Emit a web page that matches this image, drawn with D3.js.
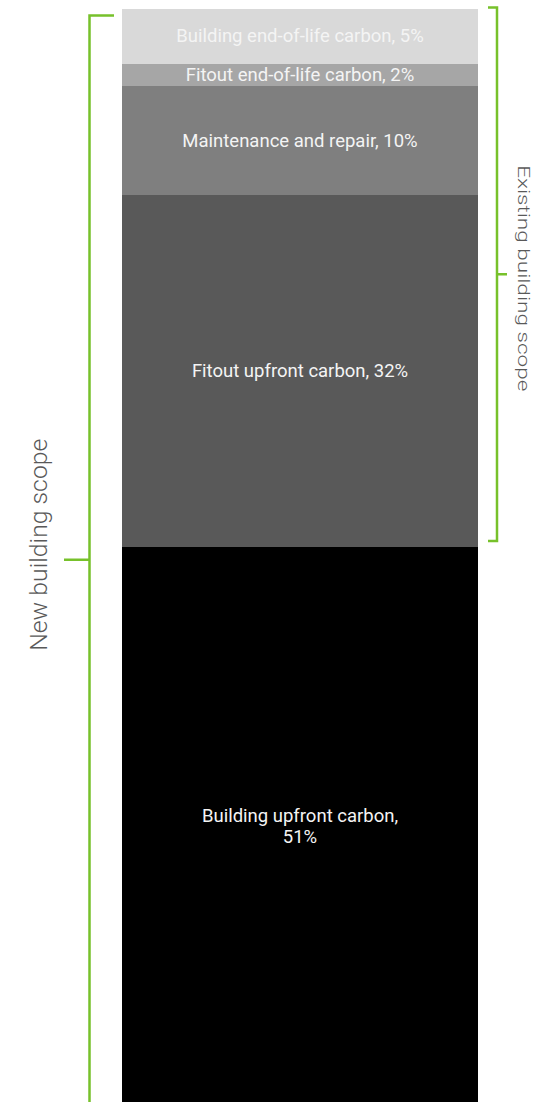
<!DOCTYPE html>
<html>
<head>
<meta charset="utf-8">
<script src="https://cdn.jsdelivr.net/npm/d3@7"></script>
<style>
  html, body { margin: 0; padding: 0; background: #fff; }
  svg { display: block; }
</style>
</head>
<body>
<svg id="chart" width="554" height="1102"></svg>
<script>
// Segments listed bottom to top of the stacked column
const categories = [
  "Building upfront carbon",
  "Fitout upfront carbon",
  "Maintenance and repair",
  "Fitout end-of-life carbon",
  "Building end-of-life carbon"
];
const shares = [51, 32, 10, 2, 5];
const fills = ["#000000", "#595959", "#7f7f7f", "#a6a6a6", "#d9d9d9"];
// Wrapped label lines per segment
const labelLines = [
  ["Building upfront carbon,", "51%"],
  ["Fitout upfront carbon, 32%"],
  ["Maintenance and repair, 10%"],
  ["Fitout end-of-life carbon, 2%"],
  ["Building end-of-life carbon, 5%"]
];
// Brackets: [from, to] in cumulative percent
const scopes = [
  { name: "New building scope", from: 0, to: 100, side: "left" },
  { name: "Existing building scope", from: 51, to: 100, side: "right" }
];

const svg = d3.select("#chart");
const green = "#77c12b";

const x = d3.scaleBand().domain(["total"]).range([122, 478]).padding(0);
const y = d3.scaleLinear().domain([0, 100]).range([1106, 9]);

const datum = {};
categories.forEach((c, i) => datum[c] = shares[i]);
const stacked = d3.stack().keys(categories)([datum]);

const seg = svg.append("g").selectAll("g")
  .data(stacked)
  .join("g");

seg.append("rect")
  .attr("x", x("total"))
  .attr("width", x.bandwidth())
  .attr("y", d => y(d[0][1]))
  .attr("height", d => y(d[0][0]) - y(d[0][1]))
  .attr("fill", (d, i) => fills[i])
  .attr("shape-rendering", "crispEdges");

const fs = 18.5, lh = 21;
seg.append("text")
  .attr("x", x("total") + x.bandwidth() / 2)
  .attr("y", d => (y(d[0][0]) + y(d[0][1])) / 2)
  .attr("text-anchor", "middle")
  .attr("font-family", "Roboto, sans-serif")
  .attr("font-size", fs)
  .attr("fill", "#f4f4f4")
  .each(function(d, i) {
    const lines = labelLines[i];
    const t = d3.select(this);
    lines.forEach((ln, j) => {
      t.append("tspan")
        .attr("x", x("total") + x.bandwidth() / 2)
        .attr("dy", j === 0 ? ((-(lines.length - 1) / 2) * lh + fs * 0.32) : lh)
        .text(ln);
    });
  });

// scope brackets
const bracket = svg.append("g")
  .attr("fill", "none")
  .attr("stroke", green)
  .attr("stroke-width", 2.5);

scopes.forEach(s => {
  if (s.side === "left") {
    const top = y(s.to) + 6.5, bot = y(s.from) - 2, mid = (top + bot) / 2;
    const bx = 89.5;
    bracket.append("path").attr("d", `M114,${top}H${bx}V${bot}`);
    bracket.append("path").attr("d", `M${bx},${mid}H64`);
    svg.append("text")
      .attr("transform", `translate(47,${mid - 15}) rotate(-90) scale(1,0.94)`)
      .attr("text-anchor", "middle")
      .attr("font-family", "Roboto, sans-serif")
      .attr("font-weight", 300)
      .attr("font-size", 24.8)
      .attr("fill", "#595959")
      .text(s.name);
  } else {
    const top = y(s.to) - 1.5, bot = y(s.from) - 5.5, mid = (top + bot) / 2;
    const bx = 497;
    bracket.append("path").attr("d", `M488,${top}H${bx}V${bot}H488`);
    bracket.append("path").attr("d", `M${bx},${mid}H507`);
    svg.append("text")
      .attr("transform", `translate(518,${mid + 4}) rotate(90) scale(1,0.77)`)
      .attr("text-anchor", "middle")
      .attr("font-family", "Roboto, sans-serif")
      .attr("font-weight", 300)
      .attr("font-size", 22.6)
      .attr("fill", "#595959")
      .text(s.name);
  }
});
</script>
</body>
</html>
